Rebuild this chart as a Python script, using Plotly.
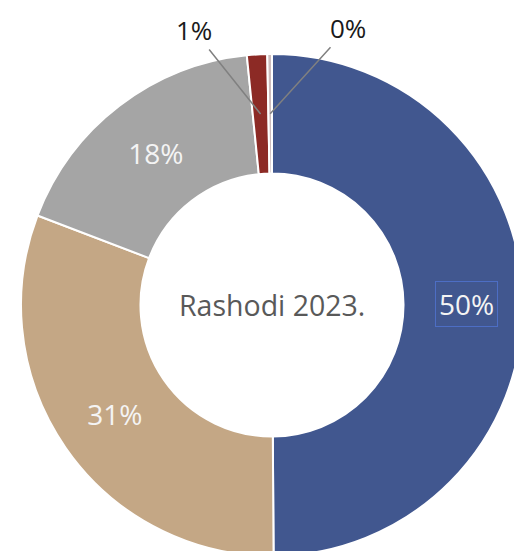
import math
import plotly.graph_objects as go

categories = ["A", "B", "C", "D", "E"]
values = [49.9, 30.9, 17.6, 1.3, 0.3]
colors = ["#41578f", "#c4a785", "#a5a5a5", "#8c2a25", "#cdbcbc"]
center_label = "Rashodi 2023."

W, H = 522, 551
HOLE = 0.524
DOM_X = [13 / 522, 515 / 522]
DOM_Y = [0.00544, 0.91652]

total = sum(values)
pct_text = [f"{round(v / total * 100)}%" for v in values]
# inside labels drawn by plotly for two big slices; the blue one gets a framed label
texts = ["", pct_text[1], pct_text[2], "", ""]

fig = go.Figure(go.Pie(
    labels=categories,
    values=values,
    hole=HOLE,
    sort=False,
    direction="clockwise",
    rotation=0,
    marker=dict(colors=colors, line=dict(color="white", width=2)),
    text=texts,
    textinfo="text",
    textposition="inside",
    insidetextorientation="horizontal",
    textfont=dict(family="Open Sans", size=28, color="#f4f4f4"),
    domain=dict(x=DOM_X, y=DOM_Y),
    showlegend=False,
    hoverinfo="skip",
))

# geometry of the pie (derived from domain), used to anchor labels on slices
cx = (DOM_X[0] + DOM_X[1]) / 2 * W
cy_top = H - (DOM_Y[0] + DOM_Y[1]) / 2 * H
R = min((DOM_X[1] - DOM_X[0]) * W, (DOM_Y[1] - DOM_Y[0]) * H) / 2
r_mid = (HOLE * R + R) / 2


def slice_point(i, r=r_mid):
    start = sum(values[:i]) / total
    mid = start + values[i] / total / 2
    th = 2 * math.pi * mid
    x = cx + r * math.sin(th)
    y = cy_top - r * math.cos(th)
    return x / W, 1 - y / H


# framed label of the largest slice
px, py = slice_point(0, r_mid + 3)
fig.add_annotation(
    x=px, y=py, xref="paper", yref="paper", text=pct_text[0], showarrow=False,
    xanchor="center", yanchor="middle",
    font=dict(family="Open Sans", size=28, color="#f4f4f4"),
    bordercolor="#4d6ec4", borderwidth=1, borderpad=3,
)

# outside labels for the tiny slices with leader lines
offsets = {3: (-67, -84), 4: (78, -86)}
for i, (ax, ay) in offsets.items():
    px, py = slice_point(i)
    fig.add_annotation(
        x=px, y=py, xref="paper", yref="paper", text=pct_text[i],
        showarrow=True, arrowhead=0, arrowwidth=1.5, arrowcolor="#808080",
        ax=ax, ay=ay, standoff=0,
        font=dict(family="Open Sans", size=26, color="#1a1a1a"),
    )

fig.add_annotation(
    x=cx / W, y=1 - cy_top / H, xref="paper", yref="paper",
    xanchor="center", yanchor="middle",
    text=center_label, showarrow=False,
    font=dict(family="Open Sans", size=28.5, color="#595959"),
)

fig.update_layout(
    width=W, height=H,
    margin=dict(l=0, r=0, t=0, b=0),
    paper_bgcolor="white",
    plot_bgcolor="white",
)

fig.write_html("out.html")
